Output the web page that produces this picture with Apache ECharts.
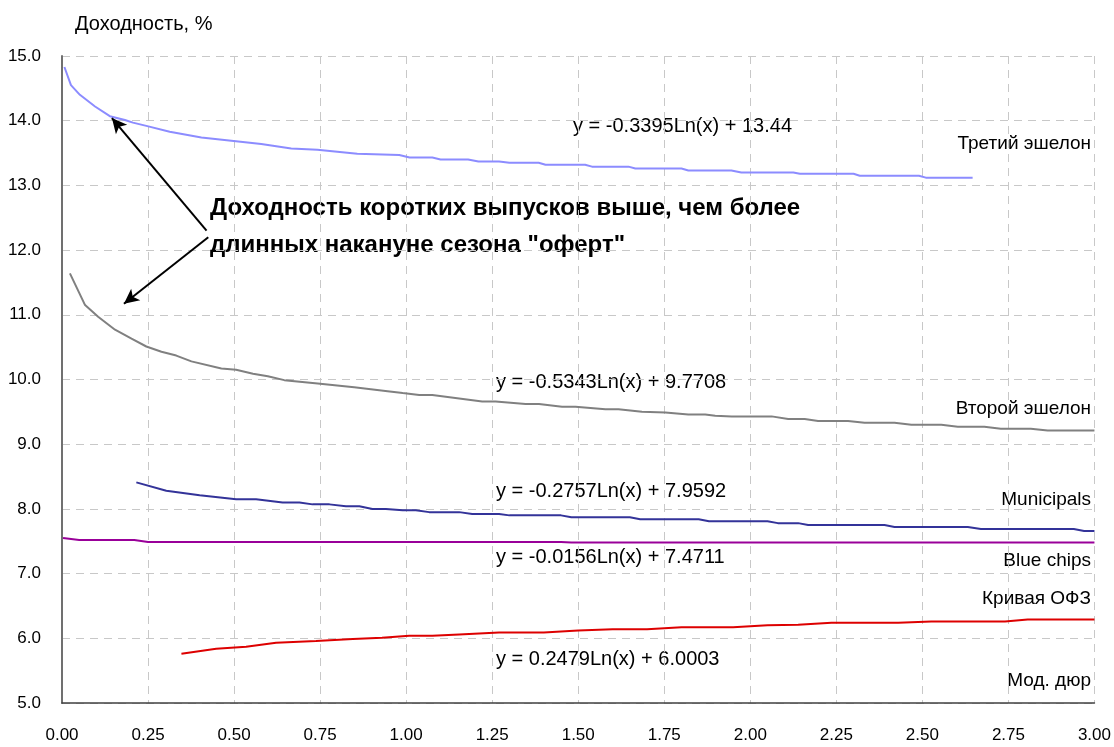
<!DOCTYPE html>
<html><head><meta charset="utf-8">
<script src="https://cdn.jsdelivr.net/npm/echarts@6/dist/echarts.min.js"></script>
<style>html,body{margin:0;padding:0;background:#fff}#c{width:1114px;height:747px}</style>
</head><body><div id="c"></div>
<script>
const xTicks = [0,0.25,0.5,0.75,1,1.25,1.5,1.75,2,2.25,2.5,2.75,3];
const yTicks = [5,6,7,8,9,10,11,12,13,14,15];

const thirdTier = [[0.007,14.83],[0.026,14.55],[0.052,14.40],[0.096,14.22],[0.139,14.07],[0.183,14.01],[0.206,13.97],[0.245,13.92],[0.313,13.83],[0.405,13.74],[0.492,13.69],[0.579,13.64],[0.666,13.57],[0.742,13.55],[0.858,13.49],[0.98,13.47],[1.01,13.43],[1.076,13.43],[1.10,13.40],[1.18,13.40],[1.21,13.37],[1.27,13.37],[1.30,13.35],[1.385,13.35],[1.405,13.32],[1.52,13.32],[1.54,13.29],[1.646,13.29],[1.666,13.26],[1.80,13.26],[1.82,13.23],[1.945,13.23],[1.974,13.20],[2.125,13.20],[2.144,13.18],[2.30,13.18],[2.318,13.15],[2.49,13.15],[2.51,13.12],[2.646,13.12]];

const secondTier = [[0.023,11.64],[0.067,11.15],[0.105,10.97],[0.154,10.77],[0.202,10.63],[0.245,10.51],[0.289,10.43],[0.332,10.37],[0.376,10.28],[0.463,10.17],[0.506,10.15],[0.555,10.09],[0.598,10.05],[0.646,9.99],[0.743,9.94],[0.849,9.88],[0.946,9.82],[0.99,9.79],[1.038,9.76],[1.076,9.76],[1.221,9.66],[1.26,9.66],[1.347,9.62],[1.386,9.62],[1.453,9.58],[1.492,9.58],[1.579,9.54],[1.617,9.54],[1.685,9.50],[1.753,9.49],[1.82,9.46],[1.869,9.46],[1.898,9.44],[1.946,9.43],[2.062,9.43],[2.11,9.39],[2.158,9.39],[2.197,9.36],[2.284,9.36],[2.332,9.33],[2.419,9.33],[2.468,9.30],[2.555,9.30],[2.603,9.27],[2.68,9.27],[2.728,9.24],[2.815,9.24],[2.864,9.21],[3.0,9.21]];

const municipals = [[0.216,8.41],[0.303,8.28],[0.40,8.21],[0.506,8.15],[0.564,8.15],[0.641,8.10],[0.69,8.10],[0.728,8.07],[0.777,8.07],[0.825,8.04],[0.864,8.04],[0.902,8.00],[0.941,8.00],[0.99,7.98],[1.028,7.98],[1.067,7.95],[1.154,7.95],[1.192,7.92],[1.27,7.92],[1.30,7.90],[1.45,7.90],[1.48,7.87],[1.65,7.87],[1.68,7.84],[1.85,7.84],[1.88,7.81],[2.05,7.81],[2.08,7.78],[2.139,7.78],[2.168,7.75],[2.39,7.75],[2.419,7.72],[2.632,7.72],[2.67,7.69],[2.94,7.69],[2.97,7.66],[3.0,7.66]];

const blueChips = [[0.003,7.55],[0.05,7.52],[0.21,7.52],[0.25,7.49],[1.45,7.49],[1.48,7.48],[3.0,7.48]];

const ofzCurve = [[0.347,5.76],[0.448,5.84],[0.535,5.87],[0.622,5.93],[0.738,5.96],[0.845,5.99],[0.93,6.01],[1.009,6.04],[1.076,6.04],[1.154,6.06],[1.27,6.09],[1.40,6.09],[1.50,6.12],[1.60,6.14],[1.70,6.14],[1.80,6.17],[1.95,6.17],[2.05,6.20],[2.139,6.21],[2.236,6.24],[2.43,6.24],[2.526,6.26],[2.74,6.26],[2.806,6.29],[3.0,6.29]];

const seriesNames = ['Третий эшелон','Второй эшелон','Municipals','Blue chips','Кривая ОФЗ'];
const seriesColors = ['#8c8cff','#808080','#333399','#990099','#dd0000'];
const equations = ['y = -0.3395Ln(x) + 13.44','y = -0.5343Ln(x) + 9.7708','y = -0.2757Ln(x) + 7.9592','y = -0.0156Ln(x) + 7.4711','y = 0.2479Ln(x) + 6.0003'];
const yTitle = 'Доходность, %';
const xTitle = 'Мод. дюр';
const noteLines = ['Доходность коротких выпусков выше, чем более','длинных накануне сезона "оферт"'];
const arrows = [[[0.42,12.3],[0.145,14.04]],[[0.425,12.2],[0.18,11.17]]];

const FONT = "'Liberation Sans',Arial,sans-serif";
const chart = echarts.init(document.getElementById('c'), null, {renderer:'canvas'});
const allData = [thirdTier, secondTier, municipals, blueChips, ofzCurve];

const series = allData.map((d,i)=>({
  type:'line', name:seriesNames[i], data:d, symbol:'none', smooth:false,
  lineStyle:{color:seriesColors[i], width:2}, itemStyle:{color:seriesColors[i]},
  animation:false, silent:true
}));
series[0].markLine = {
  silent:true, animation:false, symbol:['none','arrow'], symbolSize:[11,15],
  label:{show:false},
  lineStyle:{color:'#000', width:2, type:'solid'},
  data: arrows.map(a=>[{coord:a[0]},{coord:a[1]}])
};

const txt = (x,y,text,opt)=>Object.assign({type:'text', x, y, style:Object.assign({text, font:'20px '+FONT, fill:'#000', textVerticalAlign:'middle'}, opt||{})});
const graphics = [
  txt(75,24,yTitle),
  txt(573,126,equations[0]),
  txt(496,382,equations[1]),
  txt(496,491,equations[2]),
  txt(496,557,equations[3]),
  txt(496,659,equations[4]),
  txt(1091,144,seriesNames[0],{textAlign:'right',font:'19px '+FONT}),
  txt(1091,409,seriesNames[1],{textAlign:'right',font:'19px '+FONT}),
  txt(1091,500,seriesNames[2],{textAlign:'right',font:'19px '+FONT}),
  txt(1091,561,seriesNames[3],{textAlign:'right',font:'19px '+FONT}),
  txt(1091,599,seriesNames[4],{textAlign:'right',font:'19px '+FONT}),
  txt(1091,681,xTitle,{textAlign:'right',font:'19px '+FONT}),
  txt(210,208,noteLines[0],{font:'bold 24px '+FONT}),
  txt(210,245,noteLines[1],{font:'bold 24px '+FONT})
];

chart.setOption({
  animation:false,
  backgroundColor:'#fff',
  grid:{left:62,right:17,top:56,bottom:44,containLabel:false},
  xAxis:{type:'value',min:xTicks[0],max:xTicks[xTicks.length-1],interval:0.25,
    axisLine:{show:true,onZero:false,lineStyle:{color:'#404040',width:1.5}},
    axisTick:{show:false},
    axisLabel:{color:'#000',fontSize:17,fontFamily:FONT,margin:24,formatter:v=>v.toFixed(2),
      showMinLabel:true,showMaxLabel:true},
    splitLine:{show:true,lineStyle:{color:'#c8c8c8',width:1,type:[8,6]}}},
  yAxis:{type:'value',min:yTicks[0],max:yTicks[yTicks.length-1],interval:1,
    axisLine:{show:true,lineStyle:{color:'#707070',width:2}},
    axisTick:{show:false},
    axisLabel:{color:'#000',fontSize:17,fontFamily:FONT,margin:21,formatter:v=>v.toFixed(1)},
    splitLine:{show:true,lineStyle:{color:'#c8c8c8',width:1,type:[8,6]}}},
  series,
  graphic:graphics
});
</script></body></html>
